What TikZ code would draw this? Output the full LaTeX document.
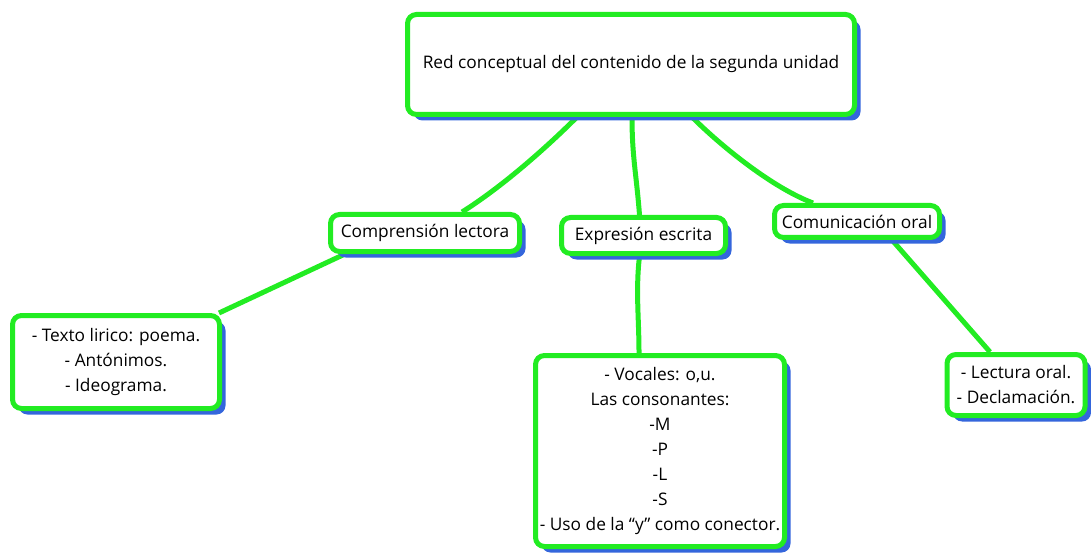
\documentclass[tikz,border=0pt]{standalone}
\usepackage{fontspec}
\setmainfont{Open Sans}
\usetikzlibrary{shadows, backgrounds}
\definecolor{verde}{RGB}{34,236,34}
\definecolor{azul}{RGB}{52,102,220}
\tikzset{
  caja/.style={draw=verde, line width=5pt, rounded corners=9pt, fill=white,
    inner sep=0pt, align=center,
    drop shadow={shadow xshift=6pt, shadow yshift=-6pt, opacity=1, fill=azul}},
  enlace/.style={draw=verde, line width=5pt}
}
\begin{document}
\begin{tikzpicture}[x=1pt, y=-1pt, font=\fontsize{17.3}{25}\selectfont]
    \useasboundingbox (0,0) rectangle (1091,553);

    % titulo
    \node[caja, minimum width=447, minimum height=100] (red) at (631,64.5)
        {Red conceptual del contenido de la segunda unidad};

    % ramas
    \node[caja, minimum width=189, minimum height=37] (comp) at (425,233) {Comprensión lectora};
    \node[caja, minimum width=164, minimum height=36] (expr) at (643.5,235.5) {Expresión escrita};
    \node[caja, minimum width=165, minimum height=32] (comu) at (857,221.5) {Comunicación oral};

    % contenidos
    \node[caja, minimum width=207, minimum height=93] (lirico) at (116,362)
        {- Texto lirico: poema.\\ - Antónimos.\\ - Ideograma.};
    \node[caja, minimum width=249, minimum height=191] (vocales) at (660,451)
        {- Vocales: o,u.\\ Las consonantes:\\ -M\\ -P\\ -L\\ -S\\ - Uso de la “y” como conector.};
    \node[caja, minimum width=138, minimum height=61] (lectura) at (1016,385)
        {- Lectura oral.\\ - Declamación.};

    % lineas
    \begin{pgfonlayer}{background}
    \draw[enlace] ([xshift=-54pt]red.south) .. controls +(-30,30) and +(40,-25) .. ([xshift=37pt]comp.north);
    \draw[enlace] ([xshift=1pt]red.south) .. controls +(0,40) and +(-3,-40) .. ([xshift=-4pt]expr.north);
    \draw[enlace] ([xshift=61pt]red.south) .. controls +(30,30) and +(-40,-15) .. ([xshift=-44pt]comu.north);
    \draw[enlace] ([xshift=-80pt]comp.south) -- ([xshift=-3pt]lirico.north east);
    \draw[enlace] ([xshift=-4pt]expr.south) .. controls +(-4,35) and +(0,-35) .. ([xshift=-21pt]vocales.north);
    \draw[enlace] ([xshift=35pt]comu.south) -- ([xshift=-26pt]lectura.north);
    \end{pgfonlayer}
\end{tikzpicture}
\end{document}
